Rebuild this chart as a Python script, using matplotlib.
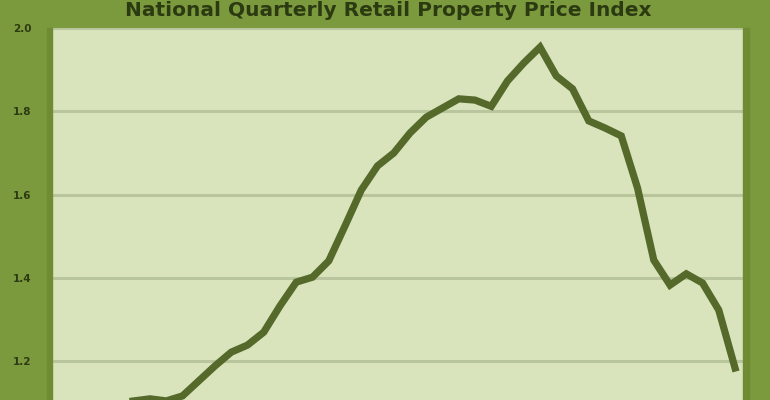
import matplotlib
matplotlib.use("Agg")
from matplotlib import pyplot as plt

# quarterly index values (first few sit below the crop)
quarters = list(range(41))
index_values = [1.08, 1.09, 1.10, 1.105, 1.11, 1.105, 1.117, 1.153, 1.189, 1.222,
                1.239, 1.270, 1.333, 1.390, 1.402, 1.441, 1.525, 1.611, 1.669, 1.700,
                1.748, 1.786, 1.808, 1.830, 1.827, 1.812, 1.873, 1.916, 1.954, 1.885,
                1.854, 1.777, 1.760, 1.741, 1.616, 1.443, 1.383, 1.410, 1.388, 1.323,
                1.184]
y_ticks = [1.2, 1.4, 1.6, 1.8, 2.0]
title = "National Quarterly Retail Property Price Index"

frame_green = "#7b9a3d"
panel_green = "#d9e4bc"
grid_green = "#b9c59c"
line_green = "#55692a"
text_green = "#2c3a12"

fig = plt.figure(figsize=(7.7, 4.0), dpi=100, facecolor=frame_green)

# slightly darker strips beside the panel
fig.patches.append(plt.Rectangle((47 / 770, 0), 5 / 770, 372 / 400, transform=fig.transFigure,
                                 color="#6f8c35", zorder=0))
fig.patches.append(plt.Rectangle((743 / 770, 0), 6 / 770, 372 / 400, transform=fig.transFigure,
                                 color="#6f8c35", zorder=0))

ax = fig.add_axes([52 / 770, 0, 691 / 770, 372 / 400])
ax.set_facecolor(panel_green)
ax.plot(quarters, index_values, color=line_green, linewidth=5.2, solid_joinstyle="miter",
        zorder=3)

ax.set_xlim(-2.03, 40.49)
ax.set_ylim(1.1072, 2.0)
ax.set_yticks(y_ticks)
ax.set_yticklabels(["%.1f" % t for t in y_ticks], fontsize=7.5, fontweight="bold",
                   color=text_green)
ax.set_xticks([])
ax.tick_params(axis="y", length=0, pad=15)
ax.grid(axis="y", color=grid_green, linewidth=2.2, zorder=1)
for spine in ax.spines.values():
    spine.set_visible(False)

fig.text(388 / 770, 1 - 10 / 400, title, ha="center", va="center", fontsize=14.5,
         fontweight="bold", color=text_green)

fig.savefig("out.png", dpi=100, facecolor=frame_green)
